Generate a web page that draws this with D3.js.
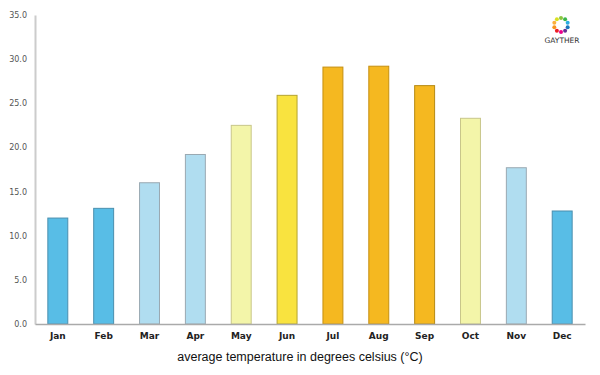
<!doctype html>
<html lang="en">
<head>
<meta charset="utf-8">
<script src="https://d3js.org/d3.v7.min.js"></script>
<style>
  body { margin: 0; background: #fff; }
  .y-axis text { font-size: 8px; fill: #555; font-family: "DejaVu Sans", sans-serif; }
  .x-axis text { font-size: 9px; fill: #222; font-family: "DejaVu Sans", sans-serif; font-weight: bold; }
</style>
</head>
<body>
<svg width="600" height="375"></svg>
<script>
const months = ["Jan", "Feb", "Mar", "Apr", "May", "Jun", "Jul", "Aug", "Sep", "Oct", "Nov", "Dec"];
const temps = [12.0, 13.1, 16.0, 19.2, 22.5, 25.9, 29.1, 29.2, 27.0, 23.3, 17.7, 12.8];
const fills = ["#58bde6", "#58bde6", "#b0ddf0", "#b0ddf0", "#f3f5a9", "#f9e33f", "#f5b820", "#f5b820", "#f5b820", "#f3f5a9", "#b0ddf0", "#58bde6"];
const strokes = ["#4a8fae", "#4a8fae", "#9aa9b2", "#9aa9b2", "#c8c68a", "#b5a430", "#c58f10", "#c58f10", "#b58a14", "#c8c68a", "#9aa9b2", "#4a8fae"];
const yTicks = [0, 5, 10, 15, 20, 25, 30, 35];
const logoColors = ["#8cc63f", "#39b54a", "#29abe2", "#1b75bc", "#662d91", "#ec008c", "#ed1c24", "#f7941d", "#fbb03b", "#d9e021"];

const margin = { top: 15, right: 15, bottom: 51, left: 35 };
const width = 600 - margin.left - margin.right;
const height = 375 - margin.top - margin.bottom;

const svg = d3.select("svg");
const g = svg.append("g").attr("transform", `translate(${margin.left},${margin.top})`);

const x = d3.scaleBand().domain(months).range([0, width]).paddingInner(0.565).paddingOuter(0.28);
const y = d3.scaleLinear().domain([0, 35]).range([height, 0]);

// y axis
const yAxis = g.append("g").attr("class", "y-axis")
  .call(d3.axisLeft(y).tickValues(yTicks).tickFormat(d3.format(".1f")).tickSize(0).tickPadding(8));
yAxis.select(".domain").attr("stroke", "#ccc").attr("stroke-width", 2);

// bars
g.selectAll(".bar")
  .data(months)
  .enter()
  .append("rect")
  .attr("class", "bar")
  .attr("x", d => x(d))
  .attr("y", (d, i) => y(temps[i]))
  .attr("width", x.bandwidth())
  .attr("height", (d, i) => height - y(temps[i]))
  .attr("fill", (d, i) => fills[i])
  .attr("stroke", (d, i) => strokes[i])
  .attr("stroke-width", 1);

// x axis
const xAxis = g.append("g").attr("class", "x-axis")
  .attr("transform", `translate(0,${height})`)
  .call(d3.axisBottom(x).tickSize(0).tickPadding(9));
xAxis.select(".domain").attr("stroke", "#aaa").attr("stroke-width", 1.5);

// axis title
svg.append("text")
  .attr("x", 300)
  .attr("y", 361)
  .attr("text-anchor", "middle")
  .style("font-family", "Liberation Sans, Arial, sans-serif")
  .style("font-size", "12.5px")
  .style("fill", "#111")
  .text("average temperature in degrees celsius (°C)");

// logo
const logo = svg.append("g").attr("transform", "translate(561,25)");
logo.selectAll("circle")
  .data(logoColors)
  .enter()
  .append("circle")
  .attr("cx", (d, i) => 7 * Math.cos(i / logoColors.length * 2 * Math.PI - Math.PI / 2))
  .attr("cy", (d, i) => 7 * Math.sin(i / logoColors.length * 2 * Math.PI - Math.PI / 2))
  .attr("r", 2)
  .attr("fill", d => d);
svg.append("text")
  .attr("x", 562)
  .attr("y", 43)
  .attr("text-anchor", "middle")
  .style("font-family", "DejaVu Sans, sans-serif")
  .style("font-size", "7.5px")
  .style("fill", "#333")
  .text("GAYTHER");
</script>
</body>
</html>
